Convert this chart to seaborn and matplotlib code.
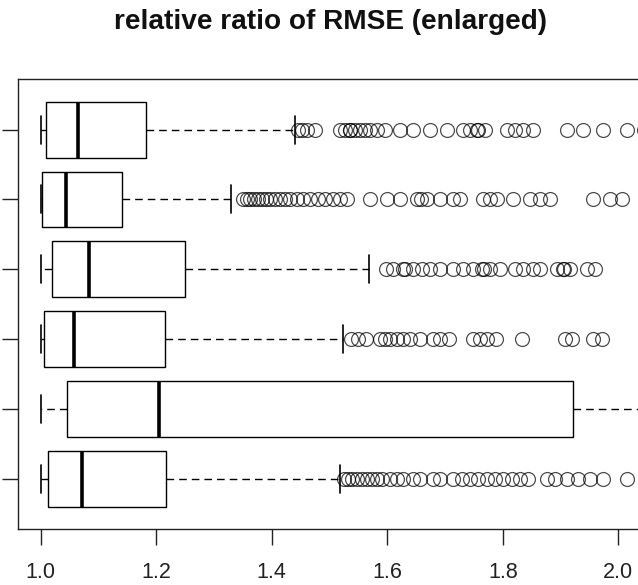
import numpy as np
import pandas as pd
import matplotlib
matplotlib.use("Agg")
import matplotlib.pyplot as plt
import seaborn as sns

# ---- data (top row first) ----
groups = ["1", "2", "3", "4", "5", "6"]
lower = [1.000, 1.000, 1.000, 1.000, 1.000, 1.000]
q1 = [1.009, 1.003, 1.019, 1.006, 1.046, 1.013]
median = [1.064, 1.044, 1.084, 1.058, 1.204, 1.071]
q3 = [1.183, 1.141, 1.249, 1.216, 1.922, 1.217]
upper = [1.441, 1.330, 1.568, 1.523, 2.300, 1.519]

out1 = [1.446, 1.452, 1.461, 1.475, 1.518, 1.527, 1.535, 1.536, 1.544, 1.553,
        1.561, 1.570, 1.582, 1.596, 1.622, 1.645, 1.674, 1.703, 1.731, 1.743,
        1.755, 1.757, 1.769, 1.807, 1.821, 1.835, 1.852, 1.911, 1.939, 1.974,
        2.015, 2.045]
out2 = [1.351, 1.357, 1.363, 1.369, 1.376, 1.383, 1.390, 1.397, 1.406, 1.414,
        1.423, 1.432, 1.444, 1.454, 1.466, 1.480, 1.492, 1.506, 1.518, 1.530,
        1.570, 1.600, 1.622, 1.652, 1.659, 1.669, 1.692, 1.714, 1.726, 1.766,
        1.778, 1.790, 1.818, 1.847, 1.865, 1.882, 1.956, 1.986, 2.006]
out3 = [1.598, 1.610, 1.627, 1.630, 1.645, 1.660, 1.674, 1.691, 1.714, 1.731,
        1.748, 1.764, 1.767, 1.778, 1.795, 1.821, 1.835, 1.852, 1.864, 1.894,
        1.904, 1.906, 1.916, 1.946, 1.960]
out4 = [1.538, 1.550, 1.564, 1.587, 1.596, 1.604, 1.616, 1.628, 1.639, 1.657,
        1.680, 1.691, 1.706, 1.749, 1.761, 1.772, 1.789, 1.833, 1.908, 1.919,
        1.957, 1.971]
out5 = []
out6 = [1.525, 1.532, 1.539, 1.548, 1.556, 1.565, 1.574, 1.582, 1.591, 1.605,
        1.617, 1.627, 1.645, 1.657, 1.679, 1.691, 1.714, 1.730, 1.744, 1.757,
        1.773, 1.787, 1.801, 1.816, 1.830, 1.844, 1.877, 1.890, 1.911, 1.930,
        1.951, 1.973, 2.015]
outliers = [out1, out2, out3, out4, out5, out6]

# build raw samples whose box-plot statistics equal the values read above
K = 100
rows = []
for g, lo, a, m, b, hi, outs in zip(groups, lower, q1, median, q3, upper, outliers):
    vals = [lo] + [a] * K + [m] * K + [b] * K + [hi] + list(outs)
    rows += [(g, v) for v in vals]
df = pd.DataFrame(rows, columns=["group", "value"])

sns.set_style("white")
plt.rcParams["font.family"] = ["Liberation Sans", "DejaVu Sans"]

fig = plt.figure(figsize=(6.38, 5.85), dpi=100)
ax = fig.add_axes([0.0287, 0.0952, 1.05, 0.7697])

sns.boxplot(
    data=df, x="value", y="group", order=groups, orient="y", ax=ax,
    width=0.8, whis=1.5, color="white", saturation=1, linecolor="black",
    linewidth=1.0, fliersize=10,
    flierprops=dict(marker="o", markerfacecolor="none",
                    markeredgecolor=(0, 0, 0, 0.7), markeredgewidth=0.9),
    medianprops=dict(linewidth=2.6, color="black"),
    whiskerprops=dict(linestyle=(0, (5.5, 3.6)), color="black", linewidth=1.0),
    capprops=dict(linewidth=1.2, color="black"),
)

ax.set_xlim(0.9612, 2.121)
ax.set_ylim(5.725, -0.725)
ax.set_xlabel("")
ax.set_ylabel("")
xt = [1.0, 1.2, 1.4, 1.6, 1.8, 2.0]
ax.set_xticks(xt)
ax.set_xticklabels([f"{v:.1f}" for v in xt])
ax.set_yticks(range(len(groups)))
ax.set_yticklabels([])
ax.tick_params(axis="x", bottom=True, length=11.5, width=1, direction="out", pad=12,
               labelsize=15.5, labelcolor="#222222", color="#222222")
ax.tick_params(axis="y", left=True, length=11.5, width=1, direction="out",
               color="#222222")
for s in ax.spines.values():
    s.set_visible(True)
    s.set_linewidth(1.0)
    s.set_color("#222222")

fig.text(330 / 638, 1 - 22 / 585, "relative ratio of RMSE (enlarged)",
         ha="center", va="center", fontsize=20.2, fontweight="bold",
         color="#111111")

fig.savefig("out.png", dpi=100)
